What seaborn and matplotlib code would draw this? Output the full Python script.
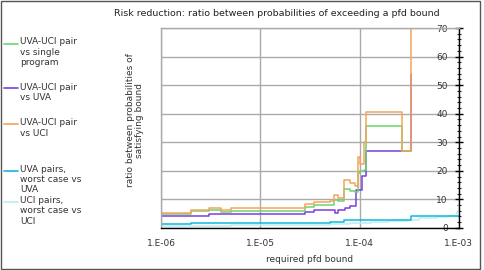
import numpy as np
import pandas as pd
import matplotlib
matplotlib.use("Agg")
import matplotlib.pyplot as plt
import matplotlib.ticker as mticker
from matplotlib.patches import Rectangle
from matplotlib.legend_handler import HandlerLine2D
import seaborn as sns

# Series labels
etiquetas = [
    "UVA-UCI pair\nvs single\nprogram",
    "UVA-UCI pair\nvs UVA",
    "UVA-UCI pair\nvs UCI",
    "UVA pairs,\nworst case vs\nUVA",
    "UCI pairs,\nworst case vs\nUCI",
]
colores = ["#6fd36f", "#7b3fe0", "#f4a55a", "#12b8dc", "#b8eef6"]

# UVA-UCI pair vs single program
x_single = [1e-6, 2e-6, 3e-6, 4e-6, 5e-6, 2.8e-5, 3.5e-5, 5.5e-5, 6e-5, 7e-5,
            8e-5, 9e-5, 9.6e-5, 1e-4, 1.1e-4, 1.16e-4, 2.65e-4, 3.27e-4]
y_single = [4.9, 5.8, 6.2, 5.7, 6.0, 7.3, 8.0, 9.9, 9.3, 13.6,
            13.0, 12.6, 19.2, 19.8, 20.4, 35.8, 26.8, 26.8]

# UVA-UCI pair vs UVA
x_uva = [1e-6, 2e-6, 3e-6, 1e-5, 2.8e-5, 3.5e-5, 5.6e-5, 6e-5, 7.1e-5, 8e-5,
         9.3e-5, 1.05e-4, 1.16e-4, 3.27e-4, 3.27e-4]
y_uva = [4.1, 4.3, 4.7, 5.0, 5.6, 6.2, 5.3, 6.4, 7.0, 7.8,
         13.4, 18.1, 27.1, 36.0, 54.0]

# UVA-UCI pair vs UCI
x_uci = [1e-6, 2e-6, 3e-6, 4e-6, 5e-6, 2.8e-5, 3.5e-5, 5e-5, 5.5e-5, 6e-5,
         7e-5, 8e-5, 9e-5, 9.6e-5, 1e-4, 1.1e-4, 1.16e-4, 2.65e-4, 3.27e-4, 3.27e-4]
y_uci = [5.2, 6.2, 6.9, 6.4, 6.8, 8.2, 9.0, 9.4, 11.4, 10.5,
         16.6, 15.7, 14.6, 24.8, 22.5, 30.0, 40.5, 26.8, 26.8, 75.0]

# UVA pairs, worst case vs UVA
x_uva_pares = [1e-6, 2e-6, 5e-5, 7e-5, 3.27e-4, 1e-3]
y_uva_pares = [1.4, 1.8, 2.2, 2.9, 4.3, 4.3]

# UCI pairs, worst case vs UCI
x_uci_pares = [1e-6, 5e-6, 2e-5, 5e-5, 8e-5, 1.3e-4, 2e-4, 3e-4, 4e-4, 6e-4, 8e-4, 9.5e-4, 1e-3]
y_uci_pares = [0.8, 0.9, 1.0, 1.2, 1.6, 2.0, 2.4, 2.9, 3.3, 3.8, 4.2, 5.5, 9.0]

series = [
    (x_single, y_single),
    (x_uva, y_uva),
    (x_uci, y_uci),
    (x_uva_pares, y_uva_pares),
    (x_uci_pares, y_uci_pares),
]

filas = []
for etiqueta, (xs, ys) in zip(etiquetas, series):
    for x, y in zip(xs, ys):
        filas.append({"pfd": x, "ratio": y, "serie": etiqueta})
df = pd.DataFrame(filas)

sns.set_style("white")
plt.rcParams["font.family"] = ["DejaVu Sans"]

fig = plt.figure(figsize=(4.84, 2.70), dpi=100)
ax = fig.add_axes([0.333, 0.156, 0.615, 0.740])

orden = [etiquetas[4], etiquetas[3], etiquetas[1], etiquetas[0], etiquetas[2]]
for etiqueta in orden:
    i = etiquetas.index(etiqueta)
    sns.lineplot(
        data=df[df["serie"] == etiqueta],
        x="pfd",
        y="ratio",
        color=colores[i],
        linewidth=1.1,
        drawstyle="steps-post",
        sort=False,
        estimator=None,
        ax=ax,
        legend=False,
    )

ax.set_xscale("log")
ax.set_xlim(1e-6, 1e-3)
ax.set_ylim(0, 70)

ax.xaxis.set_major_locator(mticker.LogLocator(base=10, numticks=10))
ax.xaxis.set_minor_locator(mticker.LogLocator(base=10, subs=np.arange(2, 10), numticks=20))
ax.xaxis.set_major_formatter(mticker.FuncFormatter(lambda v, p: "1.E-%02d" % round(-np.log10(v))))
ax.xaxis.set_minor_formatter(mticker.NullFormatter())

ax.yaxis.tick_right()
ax.yaxis.set_major_locator(mticker.MultipleLocator(10))
ax.yaxis.set_minor_locator(mticker.MultipleLocator(2))
ax.tick_params(axis="y", which="major", direction="inout", length=6, width=1,
               labelsize=6.5, pad=-11, colors="black")
ax.tick_params(axis="y", which="minor", direction="inout", length=3.5, width=0.8)
for etiqueta_y in ax.get_yticklabels():
    etiqueta_y.set_horizontalalignment("right")
    etiqueta_y.set_color("#333333")
ax.tick_params(axis="x", which="major", direction="inout", length=4, width=1,
               labelsize=6.5, pad=6, colors="black")
ax.tick_params(axis="x", which="minor", direction="inout", length=3.5, width=0.8)
plt.setp(ax.get_xticklabels(), color="#333333")

ax.grid(True, which="major", color="#aaaaaa", linewidth=1)
for lado in ["top", "left"]:
    ax.spines[lado].set_color("#aaaaaa")
    ax.spines[lado].set_linewidth(1)
for lado in ["bottom", "right"]:
    ax.spines[lado].set_color("black")
    ax.spines[lado].set_linewidth(1)

ax.set_xlabel("required pfd bound", fontsize=6.5, color="#333333", labelpad=5)
ax.set_ylabel("")

fig.text(0.572, 1 - 14 / 270, "Risk reduction: ratio between probabilities of exceeding a pfd bound",
         ha="center", va="center", fontsize=6.8, color="#222222")
fig.text(135 / 484, 1 - 120 / 270, "ratio between probabilities of\nsatisfying bound",
         ha="center", va="center", rotation=90, fontsize=6.5, color="#333333",
         linespacing=1.1)


# legend line sits on the first text line of each entry
class ManijaArriba(HandlerLine2D):
    def __init__(self, lineas, **kw):
        super().__init__(**kw)
        self.lineas = lineas

    def create_artists(self, legend, orig_handle, xdescent, ydescent,
                       width, height, fontsize, trans):
        artistas = super().create_artists(legend, orig_handle, xdescent, ydescent,
                                          width, height, fontsize, trans)
        desplazamiento = (self.lineas - 1) / 2 * fontsize * 1.0
        for a in artistas:
            a.set_ydata(np.asarray(a.get_ydata()) + desplazamiento)
        return artistas


manijas = [plt.Line2D([], [], color=c, linewidth=1.2) for c in colores]
mapa = {m: ManijaArriba(e.count("\n") + 1) for m, e in zip(manijas, etiquetas)}

leyenda_a = fig.legend(manijas[:3], etiquetas[:3], loc="upper left", bbox_to_anchor=(0.0, 0.875),
                       frameon=False, fontsize=6.5, handlelength=1.6, handletextpad=0.25,
                       labelspacing=1.75, borderaxespad=0, labelcolor="#333333",
                       handler_map=mapa)
fig.legend(manijas[3:], etiquetas[3:], loc="upper left", bbox_to_anchor=(0.0, 1 - 161 / 270),
           frameon=False, fontsize=6.5, handlelength=1.6, handletextpad=0.25,
           labelspacing=0.15, borderaxespad=0, labelcolor="#333333",
           handler_map=mapa)

fig.patches.append(Rectangle((0.002, 0.004), 0.99, 0.993, transform=fig.transFigure,
                             fill=False, edgecolor="#555555", linewidth=1))

fig.savefig("out.png", dpi=100)
